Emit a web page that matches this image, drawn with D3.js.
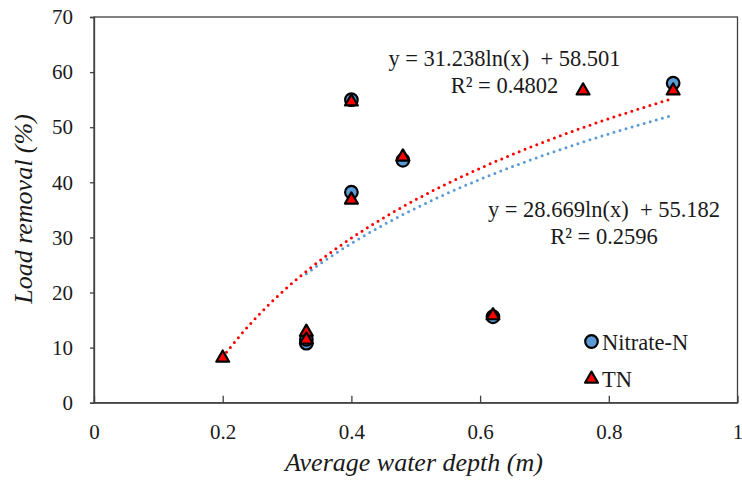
<!DOCTYPE html>
<html><head><meta charset="utf-8">
<script src="https://cdn.jsdelivr.net/npm/d3@7"></script>
</head><body style="margin:0">
<svg id="c" width="742" height="482"></svg>
<script>
// Data
const nitrateX = [0.33, 0.33, 0.40, 0.40, 0.48, 0.62, 0.90];
const nitrateY = [10.8, 11.5, 55.0, 38.2, 44.0, 15.6, 58.0];
const tnX = [0.20, 0.33, 0.33, 0.40, 0.40, 0.48, 0.62, 0.76, 0.90];
const tnY = [8.3, 13.0, 11.6, 54.8, 37.0, 44.8, 16.0, 56.8, 56.8];
// log trendlines: y = a ln(x) + b
const nitrateFit = [28.669, 55.182];
const tnFit = [31.238, 58.501];
const nitrateR2 = 0.2596, tnR2 = 0.4802;
const xTicks = [0, 0.2, 0.4, 0.6, 0.8, 1];
const yTicks = [0, 10, 20, 30, 40, 50, 60, 70];

const TXT = "#1a1a1a";
const svg = d3.select("#c");
const L = 94, R = 737.5, T = 17, B = 402.7;
const x = d3.scaleLinear().domain([0, 1]).range([L, R]);
const y = d3.scaleLinear().domain([0, 70]).range([B, T]);
const axisCol = "#404040";

function st(sel, size, italic) {
  return sel.style("font-family", '"Liberation Serif"').style("font-size", size + "px")
    .style("font-style", italic ? "italic" : "normal").style("fill", TXT);
}

svg.append("rect").attr("x", L).attr("y", T).attr("width", R - L).attr("height", B - T)
  .attr("fill", "none").attr("stroke", axisCol).attr("stroke-width", 1.3);

const ya = svg.append("g").attr("transform", `translate(${L},0)`)
  .call(d3.axisLeft(y).tickValues(yTicks).tickSize(4).tickPadding(17).tickFormat(d3.format("d")));
ya.attr("font-family", null).attr("font-size", null);
ya.select(".domain").attr("stroke", axisCol).attr("stroke-width", 1.3);
ya.selectAll(".tick line").attr("stroke", axisCol).attr("stroke-width", 1.3);
st(ya.selectAll("text"), 21);

const xa = svg.append("g").attr("transform", `translate(0,${B})`)
  .call(d3.axisBottom(x).tickValues(xTicks).tickSizeInner(-7).tickSizeOuter(0).tickPadding(21)
    .tickFormat(d => d === 0 ? "0" : d === 1 ? "1" : d3.format(".1f")(d)));
xa.attr("font-family", null).attr("font-size", null);
xa.select(".domain").attr("stroke", axisCol).attr("stroke-width", 1.3);
xa.selectAll(".tick line").attr("stroke", axisCol).attr("stroke-width", 1.3);
st(xa.selectAll("text"), 21);

st(svg.append("text").attr("x", 414).attr("y", 471).attr("text-anchor", "middle"), 26, true)
  .text("Average water depth (m)");
st(svg.append("text").attr("transform", "translate(32,209) rotate(-90)").attr("text-anchor", "middle"), 26, true)
  .text("Load removal (%)");

function trend(fit, xs, col) {
  const x0 = d3.min(xs), x1 = d3.max(xs);
  const pts = d3.range(0, 101).map(i => x0 + (x1 - x0) * i / 100);
  svg.append("path").datum(pts)
    .attr("d", d3.line().x(d => x(d)).y(d => y(fit[0] * Math.log(d) + fit[1])))
    .attr("fill", "none").attr("stroke", col).attr("stroke-width", 3)
    .attr("stroke-linecap", "round").attr("stroke-dasharray", "0 6.3");
}
trend(nitrateFit, nitrateX, "#5B9BD5");
trend(tnFit, tnX, "#FF0000");

const tri = d3.symbol().type(d3.symbolTriangle).size(72);
svg.append("g").selectAll("circle").data(nitrateX).join("circle")
  .attr("cx", d => x(d)).attr("cy", (d, i) => y(nitrateY[i])).attr("r", 6.3)
  .attr("fill", "#5B9BD5").attr("stroke", "#000").attr("stroke-width", 2.2);
svg.append("g").selectAll("path").data(tnX).join("path")
  .attr("d", tri).attr("transform", (d, i) => `translate(${x(d)},${y(tnY[i]) + 1})`)
  .attr("fill", "#FF0000").attr("stroke", "#000").attr("stroke-width", 2.2).attr("stroke-linejoin", "round");

function eq(cx, yy, fit, r2) {
  st(svg.append("text").attr("x", cx).attr("y", yy).attr("text-anchor", "middle"), 22.5)
    .style("white-space", "pre")
    .text(`y = ${fit[0].toFixed(3)}ln(x)  + ${fit[1].toFixed(3)}`);
  st(svg.append("text").attr("x", cx).attr("y", yy + 26.5).attr("text-anchor", "middle"), 22.5)
    .text(`R² = ${r2.toFixed(4)}`);
}
eq(504.5, 66, tnFit, tnR2);
eq(604, 217, nitrateFit, nitrateR2);

svg.append("circle").attr("cx", 591.5).attr("cy", 341.5).attr("r", 6.3)
  .attr("fill", "#5B9BD5").attr("stroke", "#000").attr("stroke-width", 2.2);
svg.append("path").attr("d", tri).attr("transform", "translate(591.5,379)")
  .attr("fill", "#FF0000").attr("stroke", "#000").attr("stroke-width", 2.2).attr("stroke-linejoin", "round");
st(svg.append("text").attr("x", 602).attr("y", 350), 22.5).text("Nitrate-N");
st(svg.append("text").attr("x", 602).attr("y", 387), 22.5).text("TN");
</script>
</body></html>
